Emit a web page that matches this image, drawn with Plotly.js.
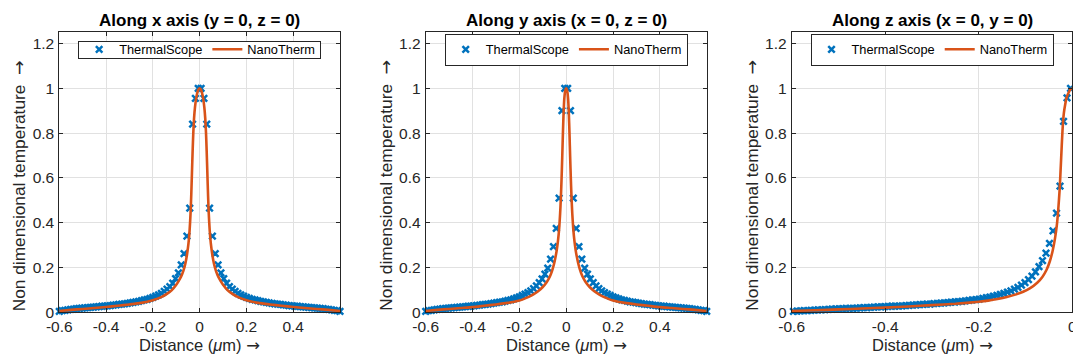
<!DOCTYPE html>
<html>
<head>
<meta charset="utf-8">
<script src="https://cdn.plot.ly/plotly-3.0.1.min.js"></script>
<style>html,body{margin:0;padding:0;background:#fff;}#chart{width:1073px;height:358px;}</style>
</head>
<body>
<div id="chart"></div>
<script>
// ---------- DATA ----------
const titles = ["Along x axis (y = 0, z = 0)", "Along y axis (x = 0, z = 0)", "Along z axis (x = 0, y = 0)"];
const seriesNames = ["ThermalScope", "NanoTherm"];
const xTicksSym = [-0.6, -0.4, -0.2, 0, 0.2, 0.4];
const xTicksZ = [-0.6, -0.4, -0.2, 0];
const yTicks = [0, 0.2, 0.4, 0.6, 0.8, 1, 1.2];

// ThermalScope sample positions along x and y (µm)
const distXY = [-0.6000,-0.5879,-0.5758,-0.5636,-0.5515,-0.5394,-0.5273,-0.5152,-0.5030,-0.4909,
 -0.4788,-0.4667,-0.4545,-0.4424,-0.4303,-0.4182,-0.4061,-0.3939,-0.3818,-0.3697,
 -0.3576,-0.3455,-0.3333,-0.3212,-0.3091,-0.2970,-0.2848,-0.2727,-0.2606,-0.2485,
 -0.2364,-0.2242,-0.2121,-0.2000,-0.1879,-0.1758,-0.1636,-0.1515,-0.1394,-0.1273,
 -0.1152,-0.1030,-0.0909,-0.0788,-0.0667,-0.0545,-0.0424,-0.0303,-0.0182,-0.0061,
 0.0061,0.0182,0.0303,0.0424,0.0545,0.0667,0.0788,0.0909,0.1030,0.1152,
 0.1273,0.1394,0.1515,0.1636,0.1758,0.1879,0.2000,0.2121,0.2242,0.2364,
 0.2485,0.2606,0.2727,0.2848,0.2970,0.3091,0.3212,0.3333,0.3455,0.3576,
 0.3697,0.3818,0.3939,0.4061,0.4182,0.4303,0.4424,0.4545,0.4667,0.4788,
 0.4909,0.5030,0.5152,0.5273,0.5394,0.5515,0.5636,0.5758,0.5879,0.6000];

const thermalX = [0.004,0.007,0.009,0.011,0.013,0.014,0.016,0.017,0.019,0.020,
 0.021,0.022,0.023,0.024,0.025,0.027,0.028,0.029,0.030,0.032,
 0.033,0.035,0.036,0.038,0.040,0.042,0.044,0.047,0.049,0.052,
 0.055,0.058,0.062,0.067,0.072,0.078,0.085,0.093,0.103,0.115,
 0.130,0.150,0.176,0.212,0.262,0.340,0.465,0.840,0.955,1.000,
 1.000,0.955,0.840,0.465,0.340,0.262,0.212,0.176,0.150,0.130,
 0.115,0.103,0.093,0.085,0.078,0.072,0.067,0.062,0.058,0.055,
 0.052,0.049,0.047,0.044,0.042,0.040,0.038,0.036,0.035,0.033,
 0.032,0.030,0.029,0.028,0.027,0.025,0.024,0.023,0.022,0.021,
 0.020,0.019,0.017,0.016,0.014,0.013,0.011,0.009,0.007,0.004];

const thermalY = [0.004,0.007,0.009,0.011,0.013,0.014,0.016,0.017,0.019,0.020,
 0.021,0.022,0.023,0.024,0.025,0.027,0.028,0.029,0.031,0.032,
 0.034,0.035,0.037,0.039,0.041,0.043,0.045,0.047,0.050,0.053,
 0.056,0.060,0.064,0.069,0.075,0.081,0.088,0.096,0.106,0.118,
 0.132,0.149,0.170,0.197,0.237,0.293,0.375,0.510,0.900,1.000,
 1.000,0.900,0.510,0.375,0.293,0.237,0.197,0.170,0.149,0.132,
 0.118,0.106,0.096,0.088,0.081,0.075,0.069,0.064,0.060,0.056,
 0.053,0.050,0.047,0.045,0.043,0.041,0.039,0.037,0.035,0.034,
 0.032,0.031,0.029,0.028,0.027,0.025,0.024,0.023,0.022,0.021,
 0.020,0.019,0.017,0.016,0.014,0.013,0.011,0.009,0.007,0.004];

// ThermalScope sample positions along z (µm)
const distZ = [-0.59625,-0.58875,-0.58125,-0.57375,-0.56625,-0.55875,-0.55125,-0.54375,-0.53625,-0.52875,
 -0.52125,-0.51375,-0.50625,-0.49875,-0.49125,-0.48375,-0.47625,-0.46875,-0.46125,-0.45375,
 -0.44625,-0.43875,-0.43125,-0.42375,-0.41625,-0.40875,-0.40125,-0.39375,-0.38625,-0.37875,
 -0.37125,-0.36375,-0.35625,-0.34875,-0.34125,-0.33375,-0.32625,-0.31875,-0.31125,-0.30375,
 -0.29625,-0.28875,-0.28125,-0.27375,-0.26625,-0.25875,-0.25125,-0.24375,-0.23625,-0.22875,
 -0.22125,-0.21375,-0.20625,-0.19875,-0.19125,-0.18375,-0.17625,-0.16875,-0.16125,-0.15375,
 -0.14625,-0.13875,-0.13125,-0.12375,-0.11625,-0.10875,-0.10125,-0.09375,-0.08625,-0.07875,
 -0.07125,-0.06375,-0.05625,-0.04875,-0.04125,-0.03375,-0.02625,-0.01875,-0.01125,-0.00375];

const thermalZ = [0.004,0.005,0.006,0.007,0.008,0.009,0.010,0.011,0.011,0.012,
 0.013,0.014,0.015,0.015,0.016,0.017,0.018,0.018,0.019,0.020,
 0.021,0.021,0.022,0.023,0.024,0.024,0.025,0.026,0.027,0.028,
 0.028,0.029,0.030,0.031,0.032,0.033,0.034,0.035,0.036,0.037,
 0.039,0.040,0.041,0.042,0.043,0.045,0.046,0.048,0.049,0.051,
 0.053,0.055,0.057,0.059,0.062,0.065,0.068,0.072,0.076,0.080,
 0.085,0.090,0.096,0.103,0.111,0.121,0.132,0.146,0.161,0.180,
 0.204,0.231,0.264,0.308,0.364,0.443,0.563,0.852,0.957,1.000];

// NanoTherm curves
const nanoDistX = [-0.6,-0.55,-0.5,-0.45,-0.4,-0.35,-0.3,-0.25,-0.2,-0.18,-0.16,-0.14,-0.12,-0.1,-0.09,-0.08,-0.07,-0.061,-0.054,-0.048,-0.043,-0.039,-0.036,-0.033,-0.03,-0.027,-0.024,-0.02,-0.015,-0.01,-0.005,
 0,0.005,0.01,0.015,0.02,0.024,0.027,0.03,0.033,0.036,0.039,0.043,0.048,0.054,0.061,0.07,0.08,0.09,0.1,0.12,0.14,0.16,0.18,0.2,0.25,0.3,0.35,0.4,0.45,0.5,0.55,0.6];
const nanoX = [0.006,0.011,0.015,0.019,0.024,0.029,0.035,0.042,0.054,0.061,0.070,0.082,0.098,0.123,0.139,0.158,0.184,0.218,0.258,0.305,0.365,0.44,0.52,0.62,0.72,0.805,0.865,0.915,0.955,0.98,0.995,
 1.0,0.995,0.98,0.955,0.915,0.865,0.805,0.72,0.62,0.52,0.44,0.365,0.305,0.258,0.218,0.184,0.158,0.139,0.123,0.098,0.082,0.070,0.061,0.054,0.042,0.035,0.029,0.024,0.019,0.015,0.011,0.006];

const nanoDistY = [-0.6,-0.55,-0.5,-0.45,-0.4,-0.35,-0.3,-0.25,-0.2,-0.18,-0.16,-0.14,-0.12,-0.1,-0.085,-0.075,-0.066,-0.058,-0.051,-0.045,-0.04,-0.035,-0.03,-0.026,-0.023,-0.02,-0.017,-0.014,-0.011,-0.008,-0.004,
 0,0.004,0.008,0.011,0.014,0.017,0.02,0.023,0.026,0.03,0.035,0.04,0.045,0.051,0.058,0.066,0.075,0.085,0.1,0.12,0.14,0.16,0.18,0.2,0.25,0.3,0.35,0.4,0.45,0.5,0.55,0.6];
const nanoY = [0.006,0.011,0.015,0.019,0.023,0.029,0.035,0.042,0.053,0.060,0.069,0.080,0.094,0.113,0.132,0.149,0.169,0.193,0.22,0.25,0.28,0.32,0.375,0.44,0.505,0.59,0.69,0.80,0.895,0.955,0.99,
 1.0,0.99,0.955,0.895,0.80,0.69,0.59,0.505,0.44,0.375,0.32,0.28,0.25,0.22,0.193,0.169,0.149,0.132,0.113,0.094,0.080,0.069,0.060,0.053,0.042,0.035,0.029,0.023,0.019,0.015,0.011,0.006];

const nanoDistZ = [-0.6,-0.55,-0.5,-0.45,-0.4,-0.35,-0.3,-0.25,-0.2,-0.18,-0.16,-0.14,-0.12,-0.105,-0.09,-0.075,-0.064,-0.055,-0.048,-0.042,-0.037,-0.033,-0.03,-0.027,-0.024,-0.021,-0.018,-0.015,-0.012,-0.008,-0.004,0];
const nanoZ = [0.006,0.009,0.013,0.017,0.021,0.026,0.032,0.038,0.047,0.052,0.059,0.068,0.080,0.092,0.108,0.132,0.158,0.19,0.228,0.275,0.33,0.39,0.46,0.55,0.68,0.81,0.89,0.93,0.96,0.98,0.995,1.0];

// ---------- RENDER ----------
const W = 1073, H = 358;
const FONT = "Liberation Sans, Arial, Helvetica, sans-serif";
const px = v => v / W, py = v => 1 - v / H;
const blue = '#0072BD', orange = '#D95319', ink = '#262626';
const plotLeft = [59.3, 425.7, 791.7], plotRight = [340, 706.7, 1072.3];
const plotTop = 32.3, plotBottom = 312.3;
const legendTop = 41, legendBottom = 58;
const ARROW = '<span style="font-family:DejaVu Sans">→</span>';

const markerStyle = {symbol: 'x-thin', size: 6.5, color: blue, line: {width: 2.5, color: blue}};
const lineStyle = {color: orange, width: 2.6, shape: 'spline', smoothing: 0.6};
const legendIds = ['legend', 'legend2', 'legend3'];

const xs = [[distXY, nanoDistX], [distXY, nanoDistY], [distZ, nanoDistZ]];
const ys = [[thermalX, nanoX], [thermalY, nanoY], [thermalZ, nanoZ]];

const traces = [];
for (let i = 0; i < 3; i++) {
  const suf = i === 0 ? '' : String(i + 1);
  traces.push({type: 'scatter', mode: 'markers', name: seriesNames[0], x: xs[i][0], y: ys[i][0],
    xaxis: 'x' + suf, yaxis: 'y' + suf, marker: markerStyle, cliponaxis: false, legend: legendIds[i]});
  traces.push({type: 'scatter', mode: 'lines', name: seriesNames[1], x: xs[i][1], y: ys[i][1],
    xaxis: 'x' + suf, yaxis: 'y' + suf, line: lineStyle, legend: legendIds[i]});
}

const axBase = {
  showline: true, linecolor: ink, linewidth: 1, mirror: 'ticks', ticks: 'inside', ticklen: 4,
  tickcolor: ink, tickwidth: 1, showgrid: true, gridcolor: '#e1e1e1', gridwidth: 1, zeroline: false,
  tickfont: {family: FONT, size: 15.5, color: ink}
};

const layout = {
  width: W, height: H, margin: {l: 0, r: 0, t: 0, b: 0},
  paper_bgcolor: '#fff', plot_bgcolor: '#fff', showlegend: true,
  font: {family: FONT, color: ink},
  annotations: []
};

for (let i = 0; i < 3; i++) {
  const suf = i === 0 ? '' : String(i + 1);
  const dom = [px(plotLeft[i]), px(plotRight[i])];
  const isZ = i === 2;
  layout['xaxis' + suf] = Object.assign({}, axBase, {
    domain: dom, anchor: 'y' + suf, range: isZ ? [-0.6, 0] : [-0.6, 0.6],
    tickmode: 'array', tickvals: isZ ? xTicksZ : xTicksSym, ticktext: (isZ ? xTicksZ : xTicksSym).map(String),
    ticklabeloverflow: 'allow', ticklabelstandoff: 0
  });
  layout['yaxis' + suf] = Object.assign({}, axBase, {
    domain: [py(plotBottom), py(plotTop)], anchor: 'x' + suf, range: [0, 1.25],
    tickmode: 'array', tickvals: yTicks, ticktext: yTicks.map(String), ticklabelstandoff: 1
  });
  const cx = (plotLeft[i] + plotRight[i]) / 2;
  layout[legendIds[i]] = {
    orientation: 'h', x: px(cx), xanchor: 'center', y: py((legendTop + legendBottom) / 2), yanchor: 'middle',
    bgcolor: '#fff', bordercolor: ink, borderwidth: 1, font: {family: FONT, size: 12.8, color: '#000'},
    itemwidth: 30
  };
  layout.annotations.push({
    xref: 'paper', yref: 'paper', x: px(cx), y: py(21), xanchor: 'center', yanchor: 'middle',
    text: '<b>' + titles[i] + '</b>', showarrow: false, font: {family: FONT, size: 17, color: '#000'}
  });
  layout.annotations.push({
    xref: 'paper', yref: 'paper', x: px(cx), y: py(345), xanchor: 'center', yanchor: 'middle',
    text: 'Distance (<i>μ</i>m) ' + ARROW, showarrow: false, font: {family: FONT, size: 16.5, color: ink}
  });
  layout.annotations.push({
    xref: 'paper', yref: 'paper', x: px(plotLeft[i] - 40.5), y: py(185.5), xanchor: 'center', yanchor: 'middle',
    text: 'Non dimensional temperature  ' + ARROW, textangle: -90, showarrow: false,
    font: {family: FONT, size: 17.3, color: ink}
  });
}

Plotly.newPlot('chart', traces, layout, {staticPlot: true, displayModeBar: false}).then(() => {
  // tighten legend frames to the compact MATLAB-style box height
  const boxH = legendBottom - legendTop;
  document.querySelectorAll('#chart .legend').forEach(g => {
    const bg = g.querySelector('rect.bg');
    if (!bg) return;
    const h = parseFloat(bg.getAttribute('height'));
    const y0 = parseFloat(bg.getAttribute('y') || 0);
    if (h > boxH) {
      bg.setAttribute('y', y0 + (h - boxH) / 2);
      bg.setAttribute('height', boxH);
    }
  });
});
</script>
</body>
</html>
